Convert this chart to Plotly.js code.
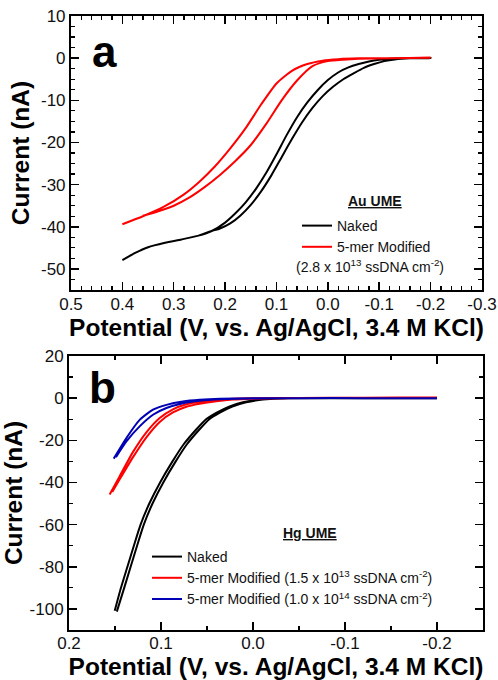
<!DOCTYPE html>
<html>
<head>
<meta charset="utf-8">
<script src="https://cdn.plot.ly/plotly-3.0.1.min.js"></script>
<style>
html,body{margin:0;padding:0;background:#fff;}
#chart{width:498px;height:680px;}
</style>
</head>
<body>
<div id="chart"></div>
<script>
// ---------- Panel a (Au UME): potential (V) and current (nA), out and back ----------
var aNakedV = [0.40, 0.375, 0.35, 0.317, 0.285, 0.252, 0.226, 0.20, 0.18, 0.16, 0.14, 0.12, 0.10, 0.08, 0.06, 0.04, 0.02, 0.0, -0.02, -0.04, -0.06, -0.08, -0.10, -0.12, -0.15, -0.20,
               -0.16, -0.13, -0.11, -0.09, -0.07, -0.05, -0.03, -0.01, 0.01, 0.03, 0.05, 0.07, 0.09, 0.11, 0.13, 0.15, 0.17, 0.19, 0.21, 0.226, 0.252];
var aNakedI = [-47.9, -46.2, -44.85, -43.8, -43.0, -42.1, -41.0, -39.0, -36.8, -34.2, -31.0, -27.2, -22.8, -18.2, -14.0, -10.5, -7.6, -5.2, -3.4, -2.2, -1.4, -0.8, -0.4, -0.15, -0.03, 0.0,
               -0.05, -0.3, -0.7, -1.4, -2.3, -3.6, -5.0, -6.8, -9.0, -11.8, -15.2, -19.2, -23.5, -27.8, -31.6, -34.8, -37.3, -39.2, -40.4, -41.0, -42.1];

var aModV = [0.40, 0.36, 0.32, 0.28, 0.25, 0.22, 0.19, 0.16, 0.13, 0.10, 0.07, 0.04, 0.01, -0.02, -0.06, -0.12, -0.20,
             -0.12, -0.06, -0.03, 0.0, 0.03, 0.06, 0.09, 0.12, 0.15, 0.18, 0.21, 0.24, 0.27, 0.30, 0.33, 0.36];
var aModI = [-39.4, -37.5, -35.3, -32.3, -29.3, -25.7, -21.4, -16.6, -11.0, -6.0, -3.0, -1.4, -0.6, -0.25, -0.05, 0.0, 0.1,
             0.0, -0.15, -0.35, -0.7, -1.9, -5.3, -10.0, -15.6, -20.6, -24.4, -27.7, -30.6, -33.1, -35.0, -36.3, -37.4];

// ---------- Panel b (Hg UME) ----------
var bNakedV = [0.1503, 0.1435, 0.1365, 0.1295, 0.1222, 0.1127, 0.101, 0.0875, 0.0755, 0.062, 0.051, 0.040, 0.026, 0.011, -0.001, -0.015, -0.035, -0.06, -0.12, -0.20,
               -0.12, -0.063, -0.0385, -0.0185, -0.0045, 0.0075, 0.0225, 0.0365, 0.0475, 0.0585, 0.072, 0.084, 0.0975, 0.1092, 0.1187, 0.126, 0.133, 0.140, 0.148];
var bNakedI = [-100.9, -90.0, -80.0, -70.0, -60.0, -50.0, -40.0, -30.0, -22.0, -15.0, -10.0, -7.0, -4.0, -2.0, -1.0, -0.4, -0.1, 0.0, 0.0, 0.0,
               0.0, 0.0, -0.1, -0.4, -1.0, -2.0, -4.0, -7.0, -10.0, -15.0, -22.0, -30.0, -40.0, -50.0, -60.0, -70.0, -80.0, -90.0, -101.3];

var bMod1V = [0.1558, 0.1449, 0.1304, 0.1159, 0.1014, 0.087, 0.0724, 0.058, 0.0398, 0.0217, 0.0, -0.05, -0.12, -0.20,
              -0.12, -0.05, 0.0, 0.0217, 0.0398, 0.058, 0.0724, 0.087, 0.1014, 0.1159, 0.1304, 0.1449, 0.153];
var bMod1I = [-45.7, -37.0, -25.5, -16.2, -9.4, -5.3, -2.9, -1.7, -0.8, -0.3, -0.1, 0.1, 0.2, 0.3,
              0.2, 0.1, -0.3, -0.7, -1.5, -2.7, -4.1, -6.8, -11.3, -18.6, -28.0, -38.5, -44.5];

var bMod2V = [0.1514, 0.1376, 0.1232, 0.1087, 0.0941, 0.0761, 0.058, 0.036, 0.0, -0.05, -0.12, -0.20,
              -0.12, -0.05, 0.0, 0.036, 0.058, 0.0761, 0.0941, 0.1087, 0.1232, 0.1376, 0.149];
var bMod2I = [-28.7, -18.9, -10.3, -5.5, -3.2, -1.6, -0.8, -0.3, -0.1, 0.0, 0.0, 0.0,
              0.0, 0.0, -0.2, -0.5, -1.2, -2.4, -4.7, -7.9, -13.4, -20.5, -28.0];

// ---------- Tick labels ----------
var aXTickVals = [0.5, 0.4, 0.3, 0.2, 0.1, 0.0, -0.1, -0.2, -0.3];
var aXTickText = ["0.5", "0.4", "0.3", "0.2", "0.1", "0.0", "-0.1", "-0.2", "-0.3"];
var aYTickVals = [10, 0, -10, -20, -30, -40, -50];
var aYTickText = ["10", "0", "-10", "-20", "-30", "-40", "-50"];
var bXTickVals = [0.2, 0.1, 0.0, -0.1, -0.2];
var bXTickText = ["0.2", "0.1", "0.0", "-0.1", "-0.2"];
var bYTickVals = [20, 0, -20, -40, -60, -80, -100];
var bYTickText = ["20", "0", "-20", "-40", "-60", "-80", "-100"];

var FONT = "Liberation Sans, Arial, sans-serif";

function curve(x, y, xa, ya, name, color, legend) {
  return {x: x, y: y, xaxis: xa, yaxis: ya, mode: 'lines', name: name,
          line: {color: color, width: 2, shape: 'spline', smoothing: 0.6}, legend: legend};
}

var traces = [
  curve(aNakedV, aNakedI, 'x', 'y', 'Naked', '#000000', 'legend'),
  curve(aModV, aModI, 'x', 'y', '5-mer Modified', '#ff0000', 'legend'),
  curve(bNakedV, bNakedI, 'x2', 'y2', 'Naked', '#000000', 'legend2'),
  curve(bMod1V, bMod1I, 'x2', 'y2', '5-mer Modified (1.5 x 10<sup>13</sup> ssDNA cm<sup>-2</sup>)', '#ff0000', 'legend2'),
  curve(bMod2V, bMod2I, 'x2', 'y2', '5-mer Modified (1.0 x 10<sup>14</sup> ssDNA cm<sup>-2</sup>)', '#0000b4', 'legend2')
];

function axisBase() {
  return {
    showline: true, linecolor: '#000', linewidth: 2, mirror: 'allticks',
    ticks: 'inside', ticklen: 8, tickwidth: 1.5, tickcolor: '#000',
    showgrid: false, zeroline: false, tickmode: 'array',
    tickfont: {family: FONT, size: 17, color: '#111'},
    fixedrange: true
  };
}
function minorTicks(d) {
  return {tickmode: 'linear', tick0: 0, dtick: d, ticks: 'inside', ticklen: 4, tickwidth: 1.2, tickcolor: '#000'};
}
var titleFont = {family: FONT, size: 24.5, color: '#000'};

var xa = axisBase();
Object.assign(xa, {domain: [0.0048, 0.9976], range: [0.5, -0.3], anchor: 'y',
  tickvals: aXTickVals, ticktext: aXTickText, minor: minorTicks(0.02), ticklabelstandoff: -2,
  title: {text: '<b>Potential (V, vs. Ag/AgCl, 3.4 M KCl)</b>', font: titleFont, standoff: 2}});
var ya = axisBase();
Object.assign(ya, {domain: [0.5537, 1], range: [-55, 10], anchor: 'x',
  tickvals: aYTickVals, ticktext: aYTickText, minor: minorTicks(2.5),
  title: {text: '<b>Current (nA)</b>', font: titleFont, standoff: 4}});
var xb = axisBase();
Object.assign(xb, {domain: [0, 1], range: [0.2, -0.25], anchor: 'y2',
  tickvals: bXTickVals, ticktext: bXTickText, minor: minorTicks(0.05), ticklabelstandoff: -3,
  title: {text: '<b>Potential (V, vs. Ag/AgCl, 3.4 M KCl)</b>', font: titleFont, standoff: 5}});
var yb = axisBase();
Object.assign(yb, {domain: [0, 0.4463], range: [-110, 20], anchor: 'x2',
  tickvals: bYTickVals, ticktext: bYTickText, minor: minorTicks(10),
  title: {text: '<b>Current (nA)</b>', font: titleFont, standoff: 4}});

function px2x(px) { return (px - 69) / 414; }
function py2y(py) { return (630 - py) / 614; }

var layout = {
  width: 498, height: 680,
  margin: {l: 69, r: 15, t: 16, b: 50},
  paper_bgcolor: '#fff', plot_bgcolor: '#fff',
  font: {family: FONT, color: '#000'},
  xaxis: xa, yaxis: ya, xaxis2: xb, yaxis2: yb,
  showlegend: true,
  legend: {x: px2x(297), y: py2y(210), xanchor: 'left', yanchor: 'top',
    bgcolor: 'rgba(0,0,0,0)', borderwidth: 0,
    font: {family: FONT, size: 14, color: '#111'}, tracegroupgap: 0},
  legend2: {x: px2x(147), y: py2y(541), xanchor: 'left', yanchor: 'top',
    bgcolor: 'rgba(0,0,0,0)', borderwidth: 0,
    font: {family: FONT, size: 14, color: '#111'}, tracegroupgap: 0},
  annotations: [
    {xref: 'paper', yref: 'paper', x: px2x(90), y: py2y(51), xanchor: 'left', yanchor: 'middle',
     text: '<b>a</b>', showarrow: false, font: {family: FONT, size: 44, color: '#000'}},
    {xref: 'paper', yref: 'paper', x: px2x(87), y: py2y(387), xanchor: 'left', yanchor: 'middle',
     text: '<b>b</b>', showarrow: false, font: {family: FONT, size: 44, color: '#000'}},
    {xref: 'paper', yref: 'paper', x: px2x(375), y: py2y(201), xanchor: 'center', yanchor: 'middle',
     text: '<b><u>Au UME</u></b>', showarrow: false, font: {family: FONT, size: 14, color: '#111'}},
    {xref: 'paper', yref: 'paper', x: px2x(294), y: py2y(266), xanchor: 'left', yanchor: 'middle',
     text: '(2.8 x 10<sup>13</sup> ssDNA cm<sup>-2</sup>)', showarrow: false, font: {family: FONT, size: 14, color: '#111'}},
    {xref: 'paper', yref: 'paper', x: px2x(310), y: py2y(533), xanchor: 'center', yanchor: 'middle',
     text: '<b><u>Hg UME</u></b>', showarrow: false, font: {family: FONT, size: 14, color: '#111'}}
  ]
};

Plotly.newPlot('chart', traces, layout, {displayModeBar: false, staticPlot: true});
</script>
</body>
</html>
